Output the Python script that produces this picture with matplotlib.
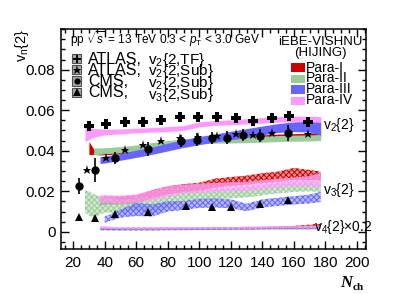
import numpy as np
import matplotlib
matplotlib.use("Agg")
import matplotlib.pyplot as plt
from matplotlib.ticker import MultipleLocator, FuncFormatter
from matplotlib.patches import Rectangle

plt.rcParams['font.family'] = ['Liberation Sans', 'DejaVu Sans']
plt.rcParams['mathtext.fontset'] = 'custom'
plt.rcParams['mathtext.rm'] = 'Liberation Sans'
plt.rcParams['mathtext.it'] = 'Liberation Sans:italic'
plt.rcParams['mathtext.bf'] = 'Liberation Sans:bold'
plt.rcParams['hatch.linewidth'] = 0.7

# ---------------- data ----------------
# ATLAS v2{2,TF}
x_atlas_tf = [30, 41, 53, 64, 76, 88, 99, 111, 123, 134, 146, 157, 169]
y_atlas_tf = [0.0522, 0.0532, 0.0543, 0.0543, 0.0552, 0.0565, 0.0565, 0.0568,
              0.0560, 0.0548, 0.0560, 0.0571, 0.0543]
# ATLAS v2{2,Sub}
x_atlas_sub = [29, 41, 53, 64, 76, 88, 99, 111, 123, 134, 146, 157, 169]
y_atlas_sub = [0.0305, 0.0365, 0.0404, 0.0429, 0.0448, 0.0463, 0.0470, 0.0474,
               0.0483, 0.0480, 0.0487, 0.0490, 0.0483]
# CMS v2{2,Sub}
x_cms_v2 = [24, 34, 46.5, 67.5, 88.5, 98.5, 108, 117.5, 127.5, 138.5, 156.5]
y_cms_v2 = [0.0227, 0.0305, 0.0363, 0.0410, 0.0447, 0.0455, 0.0463, 0.0465,
            0.0478, 0.0475, 0.0488]
e_cms_v2 = [0.004, 0.006, 0.003, 0.0035, 0.003, 0.003, 0.003, 0.003, 0.003,
            0.003, 0.004]
# CMS v3{2,Sub}
x_cms_v3 = [24, 34, 46.5, 67.5, 91.5, 108, 120, 138.5, 156.5]
y_cms_v3 = [0.0071, 0.0068, 0.0088, 0.0098, 0.0125, 0.0122, 0.0122, 0.0136, 0.0158]

# iEBE-VISHNU model bands: centre and half width on a common Nch grid
nan = np.nan
x_model = [27.5, 30, 33, 37, 40, 50, 60, 70, 80, 90, 100, 110, 120, 130, 140, 150, 160, 170, 177]

v2_c_para1 = [nan, .0413, .0395, .0390, .0390, .0395, .0405, .0420, .0432, .0440, .0447, .0453, .0458, .0462, .0466, .0470, .0472, .0475, .0478]
v2_w_para1 = [nan, .0032, .0013, .0011, .0010, .0010, .0010, .0010, .0010, .0010, .0011, .0011, .0011, .0012, .0012, .0012, .0012, .0012, .0012]
v2_c_para2 = [nan, nan, .0397, .0398, .0400, .0405, .0413, .0425, .0435, .0443, .0450, .0452, .0453, .0455, .0457, .0460, .0462, .0463, .0465]
v2_w_para2 = [nan, nan, .0017, .0016, .0015, .0015, .0015, .0015, .0015, .0015, .0015, .0015, .0015, .0015, .0015, .0015, .0015, .0015, .0015]
v2_c_para3 = [nan, nan, nan, .0354, .0356, .0370, .0385, .0400, .0418, .0435, .0450, .0463, .0475, .0487, .0500, .0512, .0518, .0522, .0522]
v2_w_para3 = [nan, nan, nan, .0017, .0017, .0017, .0018, .0018, .0019, .0019, .0020, .0020, .0021, .0022, .0022, .0022, .0024, .0030, .0045]
v2_c_para4 = [.0483, .0485, .0488, .0490, .0492, .0495, .0500, .0503, .0507, .0512, .0530, .0537, .0540, .0545, .0550, .0555, .0556, .0556, .0554]
v2_w_para4 = [.0038, .0030, .0022, .0017, .0014, .0012, .0011, .0011, .0012, .0012, .0012, .0012, .0012, .0013, .0014, .0014, .0014, .0014, .0014]

v3_c_para1 = [nan, nan, nan, .0150, .0155, .0155, .0160, .0185, .0205, .0215, .0222, .0240, .0248, .0255, .0265, .0272, .0285, .0280, .0275]
v3_w_para1 = [nan, nan, nan, .0020, .0020, .0020, .0020, .0020, .0020, .0020, .0020, .0022, .0022, .0022, .0024, .0025, .0030, .0025, .0022]
v3_c_para2 = [.0150, .0140, .0125, .0130, .0135, .0125, .0135, .0130, .0150, .0175, .0180, .0185, .0190, .0195, .0205, .0215, .0222, .0225, .0222]
v3_w_para2 = [.0055, .0060, .0060, .0045, .0040, .0030, .0030, .0040, .0030, .0025, .0025, .0025, .0025, .0025, .0025, .0025, .0025, .0025, .0025]
v3_c_para3 = [nan, nan, nan, nan, .0060, .0090, .0110, .0105, .0125, .0130, .0140, .0142, .0138, .0120, .0140, .0148, .0155, .0162, .0172]
v3_w_para3 = [nan, nan, nan, nan, .0015, .0020, .0032, .0030, .0025, .0022, .0022, .0022, .0022, .0018, .0020, .0020, .0020, .0022, .0025]
v3_c_para4 = [nan, nan, nan, .0160, .0162, .0158, .0165, .0180, .0200, .0210, .0215, .0218, .0222, .0225, .0232, .0240, .0245, .0250, .0255]
v3_w_para4 = [nan, nan, nan, .0020, .0020, .0020, .0020, .0025, .0025, .0022, .0022, .0022, .0022, .0022, .0022, .0022, .0022, .0025, .0035]

v4_c_para1 = [nan, nan, nan, .0016, .0016, .0015, .0015, .0015, .0016, .0016, .0017, .0018, .0018, .0019, .0019, .0020, .0022, .0026, .0030]
v4_w_para1 = [nan, nan, nan, .0005, .0005, .0005, .0005, .0005, .0005, .0005, .0005, .0005, .0005, .0005, .0005, .0006, .0007, .0009, .0010]
v4_c_para2 = [nan, nan, nan, .0013, .0013, .0012, .0012, .0012, .0013, .0014, .0015, .0016, .0017, .0018, .0019, .0020, .0021, .0022, .0022]
v4_w_para2 = [nan, nan, nan, .0005, .0005, .0005, .0005, .0005, .0005, .0005, .0005, .0005, .0005, .0005, .0005, .0005, .0005, .0006, .0006]
v4_c_para3 = [nan, nan, nan, .0012, .0012, .0011, .0011, .0011, .0012, .0012, .0013, .0013, .0014, .0014, .0015, .0016, .0016, .0017, .0018]
v4_w_para3 = [nan, nan, nan, .0004, .0004, .0004, .0004, .0004, .0004, .0004, .0004, .0004, .0004, .0004, .0004, .0004, .0004, .0005, .0005]
v4_c_para4 = [nan, nan, nan, .0022, .0021, .0018, .0017, .0017, .0017, .0018, .0018, .0019, .0019, .0020, .0021, .0022, .0023, .0024, .0024]
v4_w_para4 = [nan, nan, nan, .0008, .0006, .0005, .0005, .0005, .0005, .0005, .0005, .0005, .0005, .0005, .0005, .0005, .0005, .0006, .0006]

para_labels = ["Para-I", "Para-II", "Para-III", "Para-IV"]
para_colors = ["#cc0000", "#99cc99", "#6666ff", "#ff99ff"]

# ---------------- figure ----------------
fig = plt.figure(figsize=(4.07, 2.94), dpi=100)
ax = fig.add_axes([0.150, 0.153, 0.749, 0.748])

xm = np.array(x_model)

def band(c, w, color, hatched, z):
    c = np.array(c); w = np.array(w)
    if hatched:
        rgb = matplotlib.colors.to_rgb(color)
        ax.fill_between(xm, c - w, c + w, facecolor=rgb + (0.45,), edgecolor=color,
                        hatch='xxxxxx', linewidth=0, zorder=z)
    else:
        ax.fill_between(xm, c - w, c + w, color=color, linewidth=0, zorder=z)

v2c = [v2_c_para1, v2_c_para2, v2_c_para3, v2_c_para4]
v2w = [v2_w_para1, v2_w_para2, v2_w_para3, v2_w_para4]
v3c = [v3_c_para1, v3_c_para2, v3_c_para3, v3_c_para4]
v3w = [v3_w_para1, v3_w_para2, v3_w_para3, v3_w_para4]
v4c = [v4_c_para1, v4_c_para2, v4_c_para3, v4_c_para4]
v4w = [v4_w_para1, v4_w_para2, v4_w_para3, v4_w_para4]

order_v2 = [0, 2, 1, 3]
for i in order_v2:
    band(v2c[i], v2w[i], para_colors[i], False, 2 + i * 0.1)
for i in range(4):
    band(v3c[i], v3w[i], para_colors[i], True, 2 + i * 0.1)
    band(v4c[i], v4w[i], para_colors[i], True, 2 + i * 0.1)

# data points
ax.plot(x_atlas_tf, y_atlas_tf, 'P', color='black', ms=6.5, mew=0, zorder=5)
ax.plot(x_atlas_sub, y_atlas_sub, '*', color='black', ms=6.5, mew=0, zorder=5)
ax.errorbar(x_cms_v2, y_cms_v2, yerr=e_cms_v2, fmt='o', color='black', ms=5,
            elinewidth=1.2, capsize=0, zorder=6)
ax.plot(x_cms_v3, y_cms_v3, '^', color='black', ms=6, mew=0, zorder=5)

# axes
ax.set_xlim(12.3, 205.7)
ax.set_ylim(-0.0085, 0.1)
ax.xaxis.set_major_locator(MultipleLocator(20))
ax.xaxis.set_minor_locator(MultipleLocator(5))
ax.set_yticks([0, 0.02, 0.04, 0.06, 0.08])
ax.yaxis.set_minor_locator(MultipleLocator(0.005))
ax.yaxis.set_major_formatter(FuncFormatter(lambda v, p: '0' if abs(v) < 1e-9 else f'{v:.2f}'))
ax.tick_params(which='both', direction='in', top=True, right=True, width=1.0)
ax.tick_params(which='major', length=6, labelsize=11)
ax.tick_params(axis='x', which='major', pad=5)
ax.tick_params(axis='y', which='major', pad=4)
ax.tick_params(which='minor', length=3)
for s in ax.spines.values():
    s.set_linewidth(1.1)

# labels
ax.text(-0.128, 1.0, r"v$_{\rm n}${2}", transform=ax.transAxes, rotation=90,
        ha='center', va='top', fontsize=10.5)
ax.text(0.954, -0.155, "N", transform=ax.transAxes, ha='right', va='center',
        fontsize=12, family='Liberation Serif', style='italic', weight='bold')
ax.text(0.956, -0.175, "ch", transform=ax.transAxes, ha='left', va='center',
        fontsize=8, family='Liberation Serif', weight='bold')

# annotations
ax.text(178.5, 0.0525, r"v$_2${2}", ha='left', va='center', fontsize=10, zorder=7)
ax.text(178.5, 0.0205, r"v$_3${2}", ha='left', va='center', fontsize=10, zorder=7)
ax.text(172.5, 0.0023, r"v$_4${2}×0.2", ha='left', va='center', fontsize=10, zorder=7)

# header
ax.text(0.029, 0.953, r"pp $\sqrt{s}$ = 13 TeV 0.3 < $p_{\rm T}$ < 3.0 GeV",
        transform=ax.transAxes, ha='left', va='center', fontsize=8.6)

# left legend (data)
leg_names = ["ATLAS,", "ATLAS,", "CMS,", "CMS,"]
leg_obs = [r"v$_2${2,TF}", r"v$_2${2,Sub}", r"v$_2${2,Sub}", r"v$_3${2,Sub}"]
leg_markers = ['P', '*', 'o', '^']
leg_ms = [6, 6.5, 4.5, 5.5]
leg_y = [0.866, 0.815, 0.764, 0.713]
for mk, ms, yy in zip(leg_markers, leg_ms, leg_y):
    ax.add_patch(Rectangle((0.036, yy - 0.021), 0.031, 0.042, transform=ax.transAxes,
                           facecolor='#a8a8a8', edgecolor='#505050', lw=0.8, zorder=8))
    ax.plot([0.0515], [yy], mk, color='black', ms=ms, mew=0, transform=ax.transAxes,
            zorder=9)
ax.text(0.0885, leg_y[0] + 0.03, "\n".join(leg_names), transform=ax.transAxes,
        ha='left', va='top', fontsize=11.5, linespacing=0.66, zorder=9)
ax.text(0.285, leg_y[0] + 0.036, "\n".join(leg_obs), transform=ax.transAxes,
        ha='left', va='top', fontsize=11, linespacing=0.52, zorder=9)

# right legend (model)
ax.text(0.852, 0.916, "iEBE-VISHNU\n(HIJING)", transform=ax.transAxes, ha='center',
        va='center', fontsize=9.5, linespacing=0.95)
para_y = [0.827, 0.773, 0.725, 0.673]
for col, yy in zip(para_colors, para_y):
    ax.add_patch(Rectangle((0.754, yy - 0.02), 0.046, 0.04, transform=ax.transAxes,
                           facecolor=col, edgecolor='none', zorder=8))
ax.text(0.803, para_y[0] + 0.03, "\n".join(para_labels), transform=ax.transAxes,
        ha='left', va='top', fontsize=10, linespacing=0.72, zorder=9)

fig.savefig("out.png", dpi=100)
